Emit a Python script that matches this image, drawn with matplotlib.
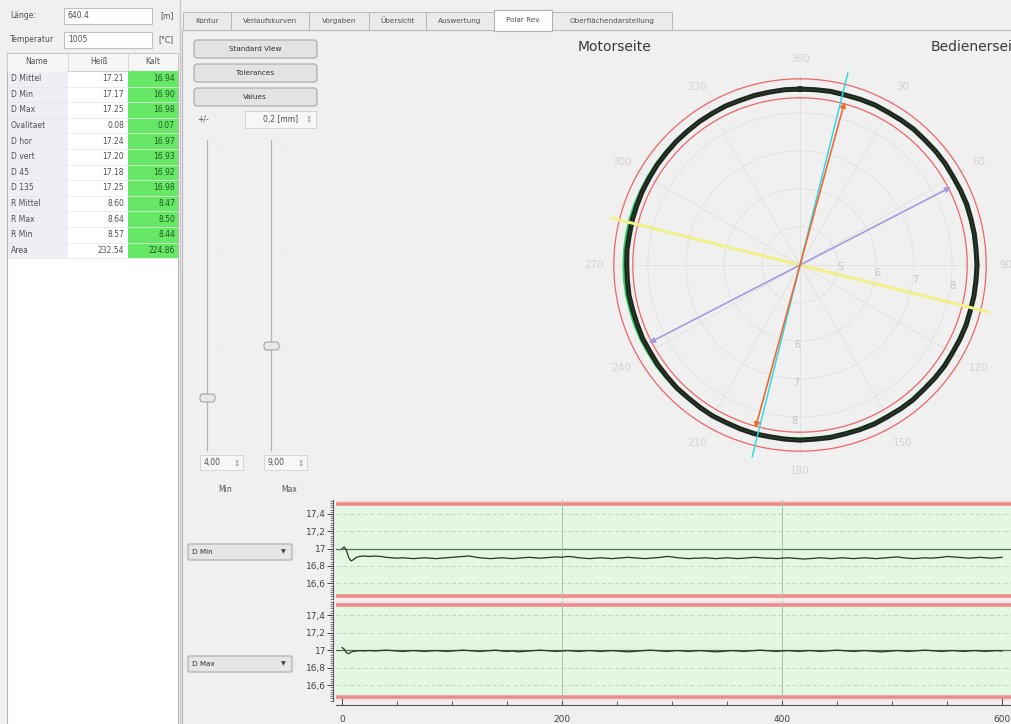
import numpy as np
import matplotlib.pyplot as plt
from matplotlib.patches import Rectangle, FancyBboxPatch
from matplotlib.ticker import MultipleLocator

W, H = 1012, 724

# --- measurement table -------------------------------------------------------
row_names = ['D Mittel', 'D Min', 'D Max', 'Ovalitaet', 'D hor', 'D vert',
             'D 45', 'D 135', 'R Mittel', 'R Max', 'R Min', 'Area']
hot_vals = [17.21, 17.17, 17.25, 0.08, 17.24, 17.20, 17.18, 17.25,
            8.60, 8.64, 8.57, 232.54]
cold_vals = [16.94, 16.90, 16.98, 0.07, 16.97, 16.93, 16.92, 16.98,
             8.47, 8.50, 8.44, 224.86]

tab_names = ['Kontur', 'Verlaufskurven', 'Vorgaben', 'Übersicht',
             'Auswertung', 'Polar Rev', 'Oberflächendarstellung']
active_tab = 'Polar Rev'

laenge = '640.4'
temperatur = '1005'
tolerance_txt = '0,2 [mm]'
r_min, r_max = 4.00, 9.00

# --- polar contour (radius per 5 deg, clockwise from top) --------------------
contour_deg = list(range(0, 365, 5))
contour_hot = [8.63, 8.63, 8.64, 8.63, 8.64, 8.65, 8.64, 8.65, 8.66, 8.65,
               8.66, 8.66, 8.65, 8.66, 8.67, 8.66, 8.66, 8.65, 8.66, 8.65,
               8.65, 8.64, 8.65, 8.64, 8.63, 8.64, 8.63, 8.62, 8.63, 8.62,
               8.61, 8.62, 8.61, 8.60, 8.61, 8.60, 8.61, 8.60, 8.59, 8.60,
               8.59, 8.58, 8.59, 8.58, 8.57, 8.58, 8.57, 8.57, 8.56, 8.57,
               8.56, 8.56, 8.57, 8.56, 8.56, 8.57, 8.56, 8.57, 8.57, 8.58,
               8.58, 8.59, 8.59, 8.60, 8.60, 8.61, 8.61, 8.62, 8.61, 8.62,
               8.62, 8.63, 8.63]
contour_green = [8.62, 8.62, 8.62, 8.62, 8.62, 8.63, 8.63, 8.63, 8.64, 8.64,
                 8.64, 8.64, 8.64, 8.64, 8.64, 8.64, 8.64, 8.64, 8.64, 8.63,
                 8.63, 8.63, 8.62, 8.62, 8.62, 8.61, 8.61, 8.60, 8.60, 8.60,
                 8.59, 8.59, 8.59, 8.58, 8.58, 8.58, 8.58, 8.58, 8.58, 8.58,
                 8.58, 8.58, 8.58, 8.59, 8.59, 8.60, 8.60, 8.61, 8.61, 8.62,
                 8.62, 8.62, 8.63, 8.63, 8.63, 8.63, 8.63, 8.63, 8.63, 8.62,
                 8.62, 8.62, 8.62, 8.62, 8.62, 8.62, 8.62, 8.62, 8.62, 8.62,
                 8.62, 8.62, 8.62]
tol_inner, tol_outer = 8.40, 8.90

# diameter lines: (angle deg, radius)
dmax_line = (15.3, 8.45)     # orange, arrows
ref_line = (14.0, 9.20)      # cyan
dmin_line = (62.7, 8.47)     # lavender, arrows
hor_line = (104.0, 9.10)     # yellow

theta_labels = ['360', '30', '60', '90', '120', '150',
                '180', '210', '240', '270', '300', '330']

# --- time series ---------------------------------------------------------------
t_pos = [0, 2, 4, 6, 8, 10, 13, 16, 20] + list(range(25, 605, 5))
d_min_series = [17.00, 17.02, 16.98, 16.90, 16.86, 16.87, 16.90, 16.91, 16.915,
    16.91, 16.915, 16.91, 16.90, 16.895, 16.89, 16.895, 16.89, 16.885, 16.89, 16.895,
    16.89, 16.885, 16.89, 16.895, 16.90, 16.905, 16.91, 16.915, 16.905, 16.895, 16.89,
    16.885, 16.89, 16.895, 16.89, 16.885, 16.89, 16.895, 16.90, 16.895, 16.89, 16.895,
    16.90, 16.905, 16.90, 16.91, 16.905, 16.895, 16.89, 16.885, 16.89, 16.895, 16.89,
    16.885, 16.89, 16.895, 16.90, 16.895, 16.89, 16.885, 16.89, 16.895, 16.90, 16.91,
    16.905, 16.895, 16.89, 16.885, 16.89, 16.89, 16.895, 16.89, 16.885, 16.89, 16.895,
    16.89, 16.885, 16.89, 16.895, 16.90, 16.895, 16.89, 16.89, 16.885, 16.89, 16.895,
    16.89, 16.885, 16.88, 16.885, 16.89, 16.895, 16.89, 16.885, 16.89, 16.895, 16.89,
    16.885, 16.89, 16.895, 16.89, 16.885, 16.89, 16.895, 16.90, 16.905, 16.895, 16.89,
    16.885, 16.89, 16.895, 16.89, 16.895, 16.90, 16.91, 16.905, 16.90, 16.895, 16.89,
    16.895, 16.90, 16.895, 16.89, 16.895, 16.90]
d_max_series = [17.03, 17.01, 16.97, 16.96, 16.975, 16.985, 16.99, 16.995, 16.99,
    16.995, 16.99, 16.995, 17.00, 16.995, 16.99, 16.985, 16.99, 16.995, 16.99, 16.985,
    16.99, 16.995, 16.99, 16.985, 16.99, 16.995, 17.00, 16.995, 16.99, 16.985, 16.99,
    16.995, 17.00, 16.99, 16.985, 16.99, 16.98, 16.985, 16.99, 16.995, 17.00, 16.995,
    16.99, 16.985, 16.99, 16.995, 16.99, 16.985, 16.99, 16.995, 16.99, 16.985, 16.99,
    16.995, 16.99, 16.985, 16.98, 16.985, 16.99, 16.995, 17.00, 16.995, 16.99, 16.985,
    16.99, 16.995, 16.99, 16.985, 16.99, 16.995, 16.99, 16.985, 16.98, 16.985, 16.99,
    16.995, 16.99, 16.985, 16.99, 16.995, 17.00, 16.995, 16.99, 16.985, 16.99, 16.995,
    16.99, 16.985, 16.99, 16.995, 16.99, 16.985, 16.99, 16.995, 17.00, 16.995, 16.99,
    16.985, 16.99, 16.995, 16.99, 16.985, 16.98, 16.985, 16.99, 16.995, 16.99, 16.985,
    16.99, 16.995, 17.00, 16.995, 16.99, 16.985, 16.99, 16.995, 16.99, 16.985, 16.99,
    16.995, 16.99, 16.985, 16.99, 16.995, 16.99]
series_names = ['D Min', 'D Max']
d_nominal = 17.0
d_tol_lo, d_tol_hi = 16.46, 17.51
y_ticks = [16.6, 16.8, 17.0, 17.2, 17.4]
y_ticklabels = ['16,6', '16,8', '17', '17,2', '17,4']

BG = '#f0f0f0'
TXT = '#505050'

fig = plt.figure(figsize=(W / 100, H / 100), dpi=100)
fig.patch.set_facecolor(BG)

# pixel-space canvas for the widgets
ui = fig.add_axes([0, 0, 1, 1])
ui.set_xlim(0, W)
ui.set_ylim(H, 0)
ui.axis('off')


def box(x0, y0, x1, y1, fc='white', ec='#c0c0c0', lw=0.8, rounded=0, z=1):
    if rounded:
        p = FancyBboxPatch((x0, y0), x1 - x0, y1 - y0,
                           boxstyle=f'round,pad=0,rounding_size={rounded}',
                           fc=fc, ec=ec, lw=lw, zorder=z)
    else:
        p = Rectangle((x0, y0), x1 - x0, y1 - y0, fc=fc, ec=ec, lw=lw, zorder=z)
    ui.add_patch(p)


def label(x, y, s, size=5.5, ha='left', color=TXT, **kw):
    ui.text(x, y, s, fontsize=size, ha=ha, va='center', color=color, **kw)


# left pane
ui.plot([180, 180], [0, H], color='#c8c8c8', lw=1)
label(10, 16, 'Länge:')
box(64, 8, 152, 24)
label(68, 16, laenge)
label(167, 16, '[m]', ha='center')
label(10, 40, 'Temperatur')
box(64, 32, 152, 48)
label(68, 40, temperatur)
label(166, 40, '[°C]', ha='center')

tbl_top, hdr_h, row_h = 53, 18, 15.6
box(7, tbl_top, 178, H + 5, fc='white', ec='#b4b4b4')
box(7, tbl_top, 178, tbl_top + hdr_h, fc='#f6f6f6', ec='#c8c8c8', lw=0.6)
for xs in (68, 128):
    ui.plot([xs, xs], [tbl_top, tbl_top + hdr_h], color='#d0d0d0', lw=0.6)
label(37, tbl_top + 9, 'Name', ha='center')
label(99, tbl_top + 9, 'Heiß', ha='center')
label(153, tbl_top + 9, 'Kalt', ha='center')
body_top = tbl_top + hdr_h
body_bot = body_top + row_h * len(row_names)
box(8, body_top, 68, body_bot, fc='#eeeff4', ec='none', z=1)
box(128, body_top, 178, body_bot, fc='#66e866', ec='none', z=1)
for i, (name, hv, cv) in enumerate(zip(row_names, hot_vals, cold_vals)):
    yc = body_top + row_h * (i + 0.5)
    ui.plot([8, 178], [body_top + row_h * (i + 1)] * 2, color='#e6e6e6', lw=0.5)
    label(11, yc, name)
    label(124, yc, f'{hv:.2f}', ha='right')
    label(175, yc, f'{cv:.2f}', ha='right', color='#1f5a1f')

# tab bar and content frame
box(182, 30, W + 5, H + 5, fc=BG, ec='#b8b8b8', lw=0.8)
tab_edges = [183, 231, 309, 369, 426, 494, 552, 672]
for i, name in enumerate(tab_names):
    x0, x1 = tab_edges[i], tab_edges[i + 1]
    if name == active_tab:
        box(x0, 10, x1, 31, fc='white', ec='#b0b0b0', lw=0.8, z=3)
        label((x0 + x1) / 2, 20, name, ha='center', size=5.2, zorder=4)
    else:
        box(x0, 12, x1, 30, fc='#ebebeb', ec='#b8b8b8', lw=0.7, z=2)
        label((x0 + x1) / 2, 21, name, ha='center', size=5.2, zorder=4)

# buttons
for yb, txt in zip((40, 64, 88), ('Standard View', 'Tolerances', 'Values')):
    box(194, yb, 317, yb + 18, fc='#e3e3e3', ec='#a8a8a8', lw=0.8, rounded=3)
    label(255, yb + 9, txt, ha='center', size=5.2, color='#303030')

label(197, 119, '+/-')
box(245, 111, 316, 128, fc='#f7f7f7', ec='#d0d0d0', lw=0.6)
label(298, 119.5, tolerance_txt, ha='right')
label(309, 119.5, '⇕', ha='center', size=5.5, color='#909090')

# min / max sliders
slider_x = (207, 271)
slider_vals = (r_min, r_max)
slider_y0, slider_y1 = 140, 450
handle_y = (398, 346)
for xs, hy in zip(slider_x, handle_y):
    ui.plot([xs, xs], [slider_y0, slider_y1], color='#b4b4b4', lw=0.9)
    for ty in (150, 250, 350):
        ui.plot([xs + 12, xs + 13], [ty, ty], color='#d4d4d4', lw=0.6)
    box(xs - 7, hy - 4, xs + 8, hy + 4, fc='#e8e8e8', ec='#9a9a9a', lw=0.7,
        rounded=3, z=3)
for xs, v, nm in zip(slider_x, slider_vals, ('Min', 'Max')):
    box(xs - 7, 455, xs + 36, 470, fc='#f7f7f7', ec='#d0d0d0', lw=0.6)
    label(xs - 3, 463, f'{v:.2f}'.replace('.', ','))
    label(xs + 30, 463, '⇕', ha='center', color='#909090')
    label(xs + 18, 489, nm, ha='center')

# combo boxes beside the time series
for yc, nm in zip((552, 664), series_names):
    box(188, yc - 8, 292, yc + 8, fc='#e6e6e6', ec='#a8a8a8', lw=0.8, rounded=2)
    label(192, yc, nm, size=5.2, color='#303030')
    label(283, yc, '▼', ha='center', size=4.5, color='#404040')

# side titles
fig.text(578 / W, 1 - 47 / H, 'Motorseite', fontsize=10, color='#3a3a3a',
         va='center')
fig.text(931 / W, 1 - 47 / H, 'Bedienerseite', fontsize=10, color='#3a3a3a',
         va='center')

# --- polar view ----------------------------------------------------------------
cx, cy, rad = 800, 265, 190
pol = fig.add_axes([(cx - rad) / W, 1 - (cy + rad) / H, 2 * rad / W, 2 * rad / H],
                   projection='polar')
pol.set_facecolor('none')
pol.set_theta_zero_location('N')
pol.set_theta_direction(-1)
pol.set_ylim(r_min, r_max)
pol.spines['polar'].set_visible(False)
pol.set_thetagrids(np.arange(0, 360, 30), theta_labels)
pol.tick_params(axis='x', colors='#d2d2d2', labelsize=7.5, pad=1)
pol.set_rticks([5, 6, 7, 8])
pol.set_rlabel_position(100)
pol.tick_params(axis='y', colors='#c4c4c4', labelsize=7)
pol.grid(color='#e0e0e0', lw=0.6)
for rv in (6, 7, 8):
    pol.text(np.deg2rad(182), rv + 0.1, str(rv), color='#c4c4c4', fontsize=7,
             ha='center', va='center')

full = np.deg2rad(np.linspace(0, 360, 361))
th = np.deg2rad(contour_deg)
for rt in (tol_inner, tol_outer):
    pol.plot(full, np.full_like(full, rt), color='#f06464', lw=0.9, zorder=3)
pol.plot(th, contour_green, color='#30d060', lw=2.4, zorder=4)
pol.plot(th, contour_hot, color='#1d261d', lw=3.6, zorder=5)
pol.plot(th, contour_hot, color='#4a5a4a', lw=0.6, zorder=6, ls=(0, (1, 1)))

for (ang, rr), col, lw in ((hor_line, '#f2f08a', 2.2), (ref_line, '#30d8e8', 1.1)):
    a = np.deg2rad(ang)
    pol.plot([a, a, a + np.pi, a + np.pi], [rr, r_min, r_min, rr],
             color=col, lw=lw, clip_on=False, zorder=6)

for (ang, rr), col, hc in ((dmin_line, '#a49ae0', '#8a7cd8'),
                           (dmax_line, '#f06a30', '#e03a20')):
    a = np.deg2rad(ang)
    pol.annotate('', xy=(a, rr), xytext=(a + np.pi, rr),
                 arrowprops=dict(arrowstyle='<|-|>', color=col, lw=1.2,
                                 mutation_scale=8, shrinkA=0, shrinkB=0),
                 zorder=7)

# --- time series panels ----------------------------------------------------------
x_left = 336
x_lim = (-5.5, 609)
y_lim = (16.42, 17.56)
panels = [(500, 599), (601, 701)]
for k, ((top, bot), series) in enumerate(zip(panels, (d_min_series, d_max_series))):
    ax = fig.add_axes([x_left / W, 1 - bot / H, (W - x_left) / W, (bot - top) / H])
    ax.set_facecolor('#e2f8e2')
    ax.set_xlim(*x_lim)
    ax.set_ylim(*y_lim)
    ax.axhspan(d_tol_hi, y_lim[1], color='#fbe2e4', lw=0, zorder=1)
    ax.axhspan(y_lim[0], d_tol_lo, color='#fbe2e4', lw=0, zorder=1)
    for yt in (d_tol_lo, d_tol_hi):
        ax.axhline(yt, color='#ee8c8c', lw=2.6, zorder=2)
    for yt in y_ticks:
        if yt == d_nominal:
            ax.axhline(yt, color='#4f6f4f', lw=0.9, zorder=2)
        else:
            ax.axhline(yt, color='#bcd8bc', lw=0.7, ls=(0, (4, 3)), zorder=2)
    for xv in (200, 400):
        ax.axvline(xv, color='#a9c3a9', lw=0.7, zorder=2)
    ax.plot(t_pos, series, color='#263826', lw=0.9, zorder=4)

    ax.spines['top'].set_visible(False)
    ax.spines['right'].set_visible(False)
    ax.spines['left'].set_position(('outward', 2))
    ax.spines['left'].set_color('#555555')
    ax.set_yticks(y_ticks)
    ax.set_yticklabels(y_ticklabels)
    ax.yaxis.set_minor_locator(MultipleLocator(0.025))
    ax.tick_params(axis='y', which='major', length=4, width=0.7, labelsize=6.5,
                   colors='#444444', pad=1)
    ax.tick_params(axis='y', which='minor', length=2, width=0.5, colors='#555555')
    if k == 0:
        ax.spines['bottom'].set_visible(False)
        ax.set_xticks([])
    else:
        ax.spines['bottom'].set_position(('outward', 3))
        ax.spines['bottom'].set_color('#555555')
        ax.set_xticks([0, 200, 400, 600])
        ax.xaxis.set_minor_locator(MultipleLocator(50))
        ax.tick_params(axis='x', which='both', direction='in', labelsize=6.5,
                       colors='#444444', pad=7)
        ax.tick_params(axis='x', which='major', length=5, width=0.7)
        ax.tick_params(axis='x', which='minor', length=3, width=0.6)

fig.savefig('out.png', dpi=100, facecolor=fig.get_facecolor())
